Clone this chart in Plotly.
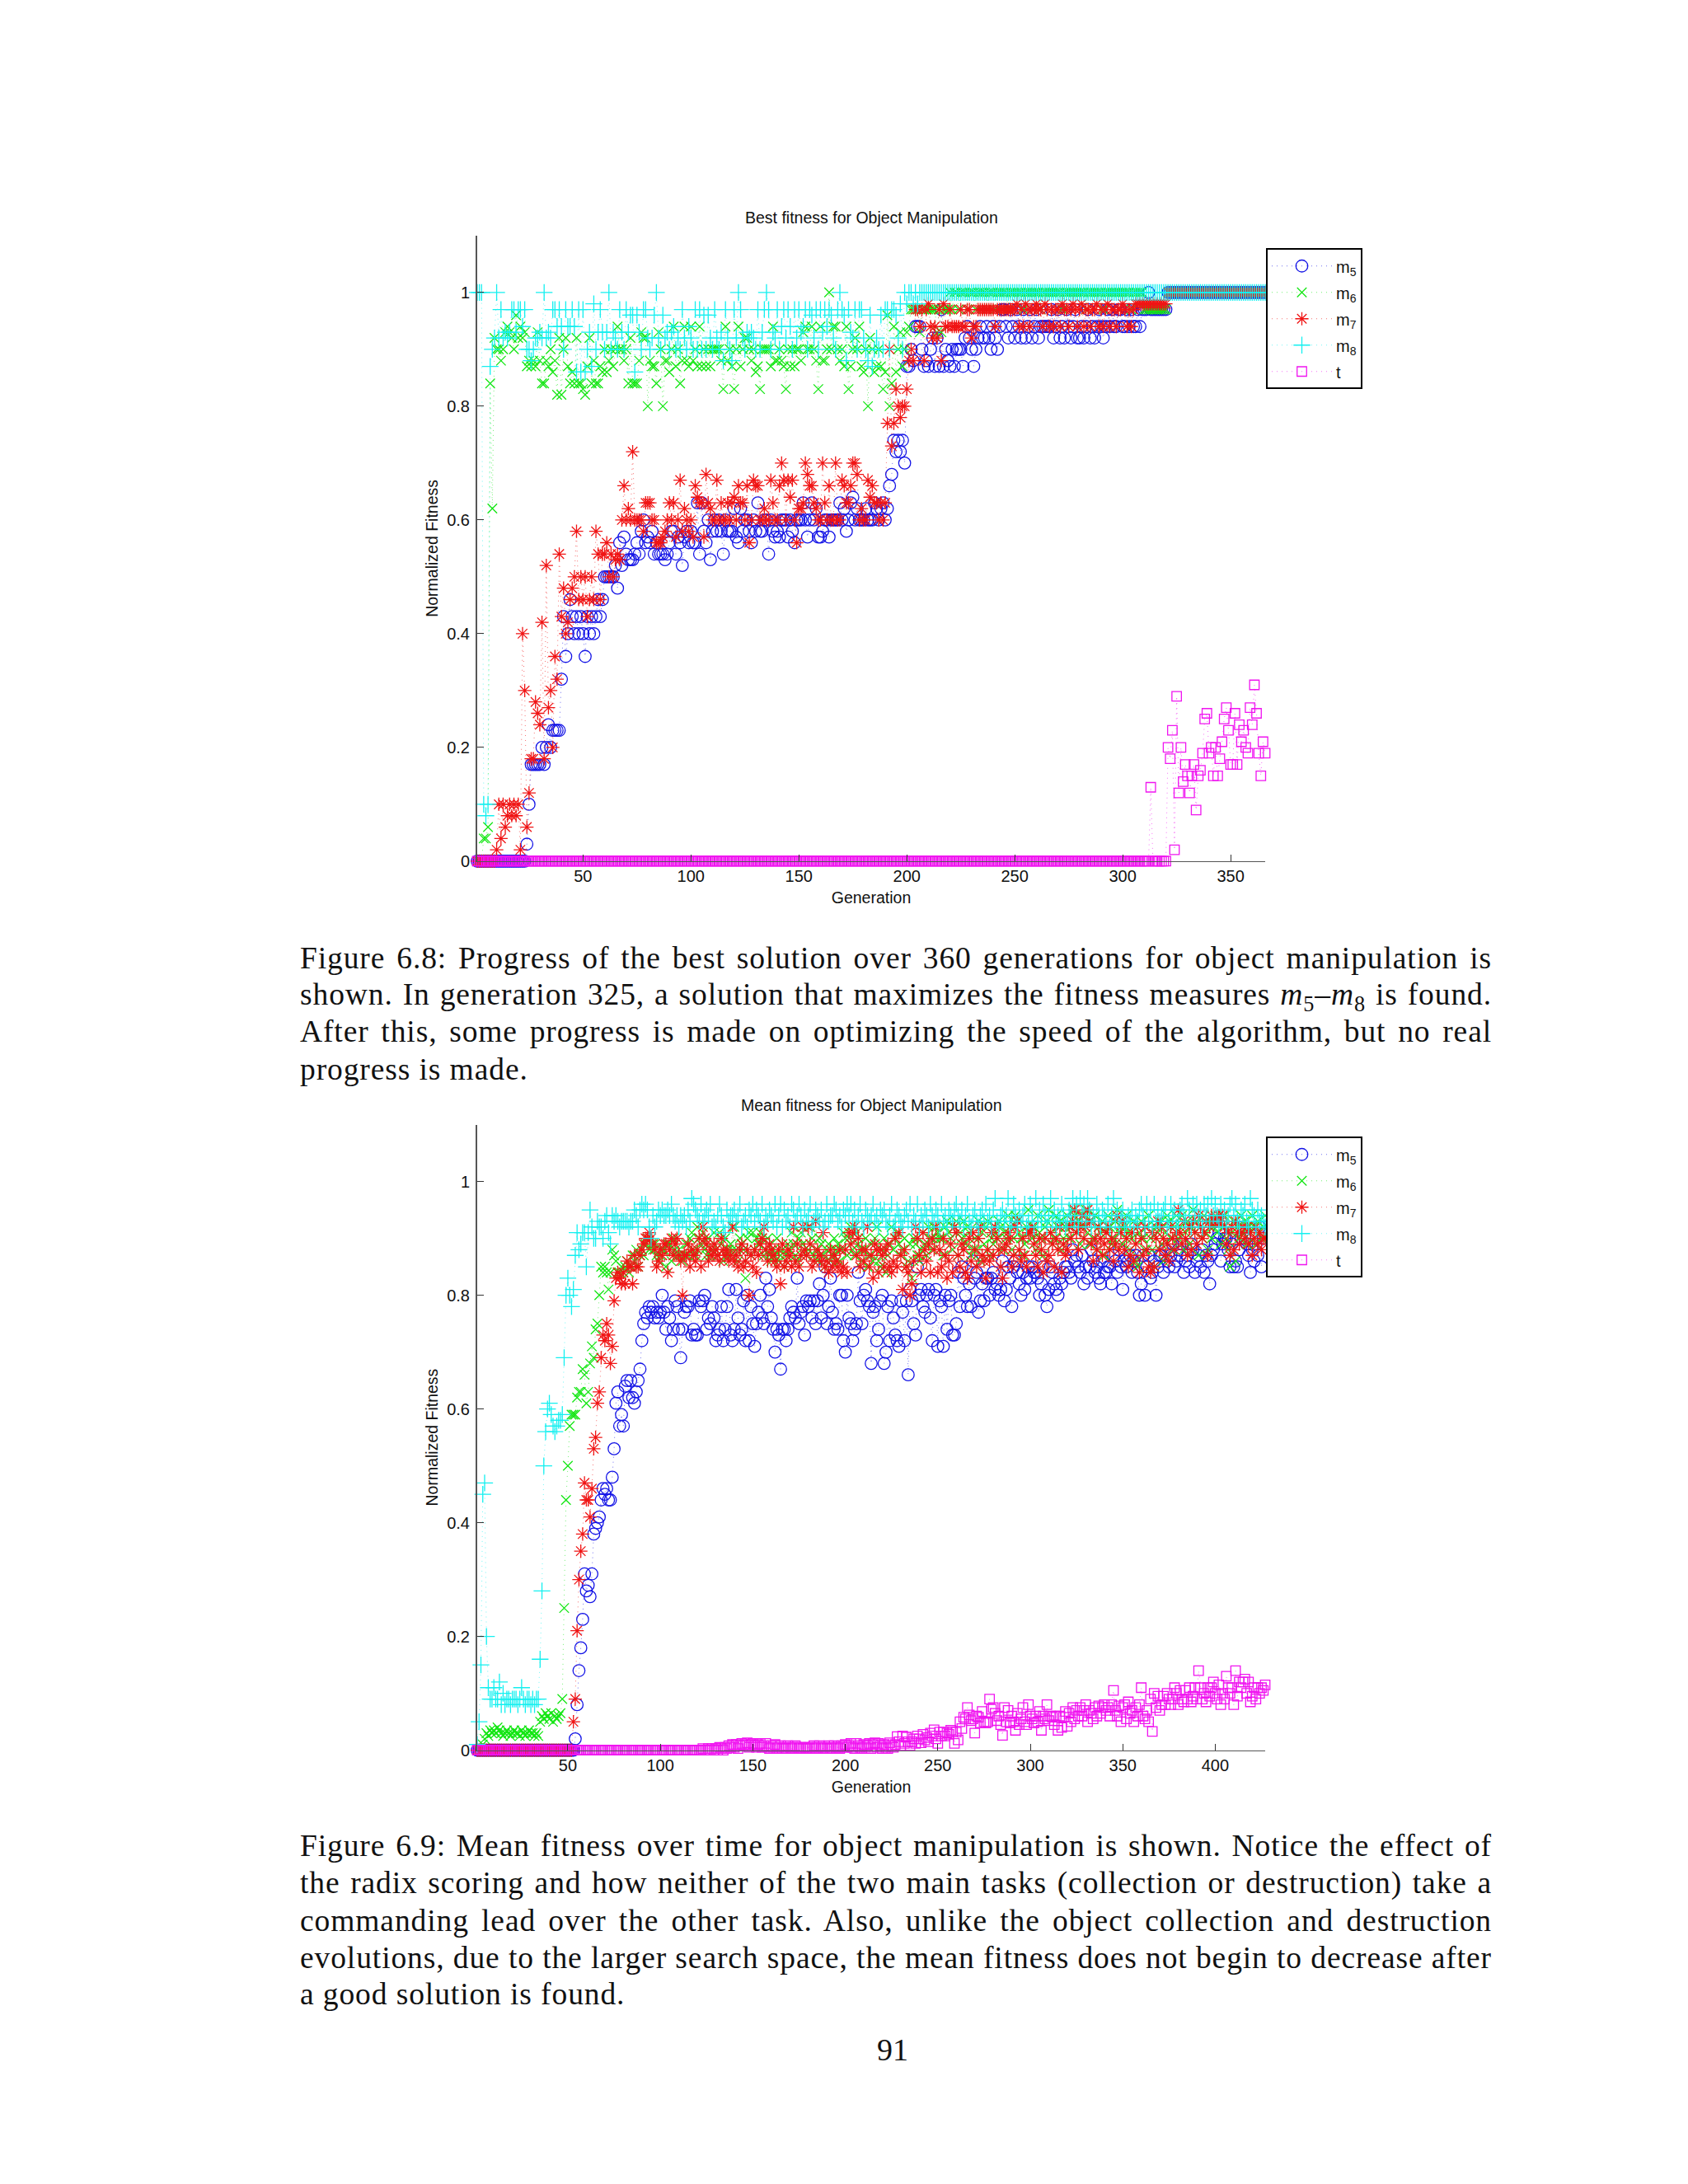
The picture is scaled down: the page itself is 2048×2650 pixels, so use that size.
import plotly.graph_objects as go

# ---------- Figure 6.8 (best fitness), values in percent, generation 1 onward ----------
best_m5 = [0]*23 + [3,10,17,17,17,17,17,20,17,20,24,20,23,23,23,23,32,43,36,40,46,43,40,43,40,43,40,36,43,40,43,40,43,46,43,46,
 50,50,50,50,50,52,48,56,52,57,54,53,53,53,54,56,54,58,60,56,57,56,58,54,56,54,54,54,53,54,56,58,58,54,57,56,52,57,58,56,
 58,56,56,63,54,63,58,56,60,53,58,60,58,60,58,54,60,58,58,58,62,57,56,62,58,60,60,58,56,60,58,63,58,58,60,60,54,60,58,57,
 58,57,60,60,60,57,60,58,56,60,60,60,63,60,57,60,63,60,62,57,57,58,60,60,57,60,60,60,60,63,60,62,58,60,63,64,60,62,60,60,
 60,62,60,60,60,63,62,60,62,63,60,62,66,68,74,72,74,72,74,70,
 87,87,90,88,94,94,94,90,87,88,
 87,90,92,87,92,87,97,87,90,88,
 87,90,87,90,90,90,87,92,94,92,
 90,87,90,92,94,92,92,94,92,90,
 94,92,90,94,97,97,94,92,97,94,
 92,97,94,92,97,92,94,97,92,94,
 97,92,94,94,94,94,94,97,92,94,
 97,92,94,92,97,94,92,94,97,92,
 92,94,92,94,97,92,94,92,94,97,
 94,92,94,97,94,97,94,94,97,97,
 94,94,97,94,97,94,94,97,94,97,
 97,97,100,97,97,97,97,97,97,97,97] + [100]*46
best_m6 = [0,0,0,4,4,6,84,62,92,90,90,88,90,93,94,93,92,90,96,92,94,92,93,87,88,87,88,87,93,88,84,84,88,87,90,86,88,82,92,82,
 90,92,87,84,86,84,92,84,84,83,82,87,92,84,88,84,84,87,86,90,86,88,90,87,90,94,90,90,88,90,84,92,84,84,84,88,93,92,92,80,
 88,87,87,84,93,90,80,88,88,86,90,94,87,90,84,88,94,88,87,
 94,88,90,87,94,87,90,87,90,87,
 90,90,90,90,88,83,94,88,90,87,
 83,90,94,87,90,92,92,90,88,90,
 86,87,83,90,90,90,90,87,94,88,
 88,90,88,87,83,90,87,90,87,90,
 90,88,93,94,90,90,94,90,88,83,
 94,88,88,90,100,90,94,94,90,88,
 90,87,94,83,87,90,92,90,94,87,
 86,90,80,92,90,86,87,90,87,83,
 86,96,80,84,94,86,90,93,87,90,
 93,94,97,97,97,97,93,97,97,97,97,97,97,97,93,97,93,97,97,97,
 100,97,100,100,97,100,100,100,97,100,100,100,97,100,100,100,100,97,100,100,
 100,97,100,100,100,100,100,97,100,100,100,100,100,100,97,100,100,100,100,100,
 100,100,97,100,100,100,100,100,100,100,100,100,97,100,100,100,100,100,100,100,
 100,100,100,97,100,100,100,100,100,100,100,97,100,100,100,100,100,100,100,100,
 100,100,100,100,97,100,100,100,100,100,97,97,97,97,97,97,97,97,97,97,97] + [100]*46
best_m7 = [0]*9 + [2,10,4,10,6,8,10,8,10,8,10,2,40,30,6,12,18,18,28,26,24,42,18,52,27,30,20,36,32,54,43,48,40,42,46,48,50,58,
 46,50,46,50,43,46,50,46,58,54,46,54,54,56,50,54,50,53,54,53,60,66,60,62,60,72,60,60,60,60,58,63,
 63,63,60,60,56,56,56,57,58,60,
 63,60,63,57,60,67,58,62,60,58,
 60,57,66,64,63,63,57,68,63,62,
 60,60,67,60,63,60,60,63,60,63,
 64,60,66,63,63,60,66,56,60,67,
 66,66,60,60,62,60,60,67,63,60,
 60,66,70,67,60,67,64,67,60,56,
 62,62,63,70,68,66,66,63,62,60,
 60,70,63,60,66,60,60,70,60,60,
 67,66,63,63,66,70,70,68,60,62,
 60,60,67,64,66,63,63,60,63,60,
 63,77,90,73,77,83,80,78,80,80,
 83,88,90,88,97,97,94,97,88,97,
 98,94,92,94,92,97,88,98,94,94,
 97,94,94,94,94,97,94,94,97,97,
 92,94,94,97,97,97,97,97,97,97,
 97,94,97,97,97,97,97,97,97,97,
 97,98,94,97,94,98,97,94,97,97,
 98,97,97,94,98,97,94,97,94,97,
 97,94,98,97,97,94,97,98,97,94,
 97,98,94,97,97,94,97,97,98,94,
 97,94,97,98,94,97,97,94,97,97,
 98,97,94,97,94,97,98,98,98,98,
 98,98,98,98,98,98,98,98,98,98,98] + [100]*46
best_m8 = [100,100,100,10,8,10,87,90,92,100,92,97,92,93,92,93,97,97,93,97,97,94,97,90,90,88,90,92,92,93,92,100,92,93,92,97,97,94,97,
 94,90,97,94,94,97,94,86,97,86,
 97,86,90,93,87,98,90,93,97,93,
 90,93,100,90,93,92,90,97,93,90,
 97,93,96,96,86,96,93,90,97,97,
 92,90,92,96,100,92,90,96,92,93,
 90,93,94,90,92,90,97,92,90,94,
 92,90,97,90,97,90,96,90,96,92,
 90,97,92,90,93,88,97,92,90,88,
 97,92,100,97,92,90,93,92,93,92,
 90,97,90,93,97,100,97,90,93,92,
 97,90,94,97,92,97,94,90,97,92,
 97,93,94,97,90,97,96,92,97,90,
 97,93,97,94,97,96,92,90,97,100,
 97,96,88,97,93,92,97,90,97,97,
 92,90,88,96,87,90,92,90,96,90,
 97,97,90,97,97,96,92,98,90,100,
 98,100,100,98,100,98,100] + [100]*160
best_t = [0]*312 + [13] + [0]*7 + [20,18,23,2,29,12,20,14,17,15,12,15,17,9,15,16,19,25,26,19,20,15,20,15,18,21,25,27,23,17,17,26,17,24,21,23,20,19,27,24,31,26,19,15,21,19]

# ---------- Figure 6.9 (mean fitness), values in percent, generation 1 onward ----------
mean_m5 = [0]*53 + [2,8,14,18,23,31,28,29,27,31,38,39,40,41,44,46,45,46,44,44,48,53,61,63,57,59,57,64,65,62,65,62,61,63,65,67,72,75,77,76,78,77,78,76,77,76,77,
 80,77,74,78,76,72,74,79,78,74,
 69,74,77,78,78,79,73,74,73,73,
 79,78,79,80,74,76,75,78,76,72,
 73,74,78,72,74,78,81,73,72,74,
 81,76,73,74,79,72,80,72,78,75,
 71,75,77,80,76,75,83,78,81,76,
 74,70,74,73,67,74,74,72,74,76,
 78,77,76,83,75,77,78,73,79,78,
 79,76,79,75,79,82,76,80,85,75,
 78,83,77,74,75,74,80,80,72,70,
 80,76,75,72,74,75,84,79,75,80,
 81,79,78,68,77,78,72,74,79,80,
 68,70,78,72,79,76,73,72,71,79,
 77,72,79,66,81,79,75,73,85,80,
 81,78,77,80,81,76,72,80,81,71,
 79,78,71,80,74,79,80,73,73,75,
 84,78,85,83,80,78,82,78,86,83,
 84,77,79,82,79,83,83,80,83,84,
 81,82,80,81,86,79,81,85,83,78,
 85,86,84,82,80,84,81,83,85,83,
 85,84,84,83,80,82,85,80,78,81,
 85,84,82,81,80,83,82,84,85,85,
 84,83,88,86,87,85,84,87,82,85,
 83,85,88,86,84,85,83,82,86,84,
 84,85,85,82,87,86,84,88,85,81,
 86,85,86,87,84,86,87,84,80,82,
 87,80,85,87,83,84,86,80,85,87,
 87,84,88,86,85,87,89,85,86,88,
 87,89,84,86,87,85,89,88,84,86,
 87,85,88,84,87,86,82,87,88,89,
 90,91,86,89,90,90,88,85,89,85,
 86,85,88,90,92,90,89,87,84,88,
 86,89,87,92,85,90,91,88]
mean_m6 = [0,0,0,1,2,3,2.5,3.5,3,3.5,3,4,3.5,3,2.5,3,3.5,3,2.5,3,3.5,3,3,2.5,3.5,3,2.5,3,3.5,3,3,2.5,3,2.5,5,6,5.5,6.5,6,5.5,6.5,5,6,5.5,6,6.5,9,25,44,50,57,59,59,59,62,63,63,67,66,61,63,68,71,69,74,75,80,85,84,85,84,81,84,88,87,86,84,84,85,
 84,85,86,84,85,87,86,88,85,87,
 88,87,89,90,88,89,88,89,87,86,
 87,88,88,85,89,89,86,90,88,87,
 88,87,86,87,89,87,90,91,88,87,
 92,90,89,91,88,87,90,87,88,91,
 88,87,91,89,86,90,87,88,89,88,
 92,88,86,90,89,88,83,90,91,87,
 91,88,90,89,91,90,87,88,90,87,
 86,88,87,90,86,87,88,85,87,89,
 88,91,89,87,86,90,91,89,88,87,
 88,92,90,87,88,86,90,89,87,85,
 88,89,86,87,90,88,89,86,88,91,
 90,87,90,92,88,87,91,89,88,86,
 88,90,85,87,89,86,90,92,86,85,
 88,90,84,87,89,92,88,90,91,89,
 87,88,90,85,86,89,83,90,89,87,
 86,88,91,89,87,92,90,88,92,90,
 91,90,90,87,92,93,91,90,88,92,
 93,87,91,90,93,89,92,91,87,88,
 90,88,93,86,91,89,92,93,87,90,
 89,91,90,93,92,88,91,90,94,92,
 88,90,94,93,91,90,87,89,92,95,
 91,90,92,88,94,91,90,87,92,93,
 95,91,89,90,94,92,93,88,90,92,
 94,90,92,95,94,91,93,89,92,94,
 95,91,89,93,90,94,88,92,91,93,
 87,91,94,92,89,90,93,95,91,92,
 89,92,94,91,88,90,93,86,85,91,
 93,90,88,92,94,90,88,85,92,91,
 93,89,86,91,94,93,90,88,92,94,
 90,92,94,88,91,93,89,92,95,91,
 93,87,92,90,94,91,88,93,90,92,
 94,91,93,89,92,94,90,88,85,91,
 93,86,92,90,94,91,93,89,92,91,
 94,92,89,93,91,90,92,94]
mean_m7 = [0]*52 + [5,9,21,30,35,38,47,44,44,41,46,53,55,61,63,69,73,72,75,73,68,71,79,83,84,83,82,84,82,86,85,85,82,87,85,85,87,88,89,90,90,91,90,89,88,85,86,
 88,87,89,89,84,88,90,87,89,90,
 87,86,80,87,87,89,85,88,87,86,
 88,90,85,92,90,89,86,88,87,89,
 88,87,86,90,88,87,88,86,87,92,
 86,87,85,88,89,85,86,88,80,87,
 85,88,84,87,89,90,92,88,86,89,
 88,87,86,85,88,82,89,85,86,88,
 87,85,92,86,89,85,87,92,88,87,
 92,89,85,86,93,88,87,86,91,85,
 86,84,88,85,87,86,85,88,84,85,
 88,84,91,89,91,92,87,90,85,88,
 86,88,92,85,87,83,89,88,84,88,
 87,85,88,89,85,84,86,90,85,91,
 87,81,88,85,84,80,82,86,92,90,
 87,84,91,88,86,89,84,90,88,92,
 84,88,85,90,87,83,86,89,84,92,
 91,87,85,89,88,84,83,90,86,91,
 88,85,90,92,87,86,83,88,86,91,
 87,92,90,88,85,83,88,89,91,90,
 85,87,92,93,88,86,90,87,85,91,
 91,92,89,87,85,90,88,84,90,86,
 87,91,89,85,90,88,92,84,89,87,
 88,92,90,93,95,91,88,92,94,90,
 92,95,93,89,86,90,88,92,90,87,
 89,91,92,88,90,86,89,94,88,91,
 93,88,90,85,87,91,86,89,92,84,
 90,87,92,88,85,84,91,85,90,93,
 88,92,90,87,89,86,92,90,88,91,
 95,91,89,93,90,87,92,88,93,91,
 89,94,92,90,91,93,87,92,94,93,
 93,93,94,93,94,92,89,91,87,92,
 88,93,91,89,91,92,90,92,89,91,
 87,90,92,89,91,88,90,90]
mean_m8 = [1,5,15,45,47,20,11,9,9,11,9,9,12,8,10,8,9,9,8,9,9,9,8,9,11,9,8,9,9,8,9,8,9,9,16,28,50,56,60,61,59,57,56,57,58,58,59,69,80,83,80,78,81,87,91,88,89,91,91,85,91,95,92,90,90,93,92,92,90,93,94,91,89,94,93,94,93,92,93,
 93,93,93,92,93,93,95,94,92,95,
 96,95,96,95,92,90,94,92,93,95,
 94,95,94,94,95,94,96,94,93,94,
 92,94,93,94,92,95,93,97,96,95,
 94,93,96,93,94,95,94,96,92,93,
 92,94,96,94,92,91,95,93,94,94,
 95,93,94,96,92,93,94,92,95,94,
 96,93,95,94,93,96,92,94,93,95,
 94,93,96,92,94,96,92,95,93,94,
 92,96,95,93,94,96,94,92,95,93,
 94,96,92,93,95,94,93,95,92,93,
 96,93,94,94,96,95,93,94,92,95,
 94,96,94,96,93,95,92,94,96,93,
 92,95,94,93,94,96,93,94,92,95,
 94,95,93,92,94,96,92,93,95,94,
 93,92,94,95,93,96,92,94,93,96,
 92,94,93,95,94,92,96,94,93,95,
 94,92,96,93,94,92,95,94,93,95,
 96,94,93,95,92,94,96,93,92,94,
 95,93,92,94,95,93,96,93,94,92,
 95,97,93,92,94,95,93,94,97,92,
 93,96,94,92,95,93,94,96,92,93,
 96,94,92,97,93,95,93,96,94,92,
 94,97,93,95,92,94,93,96,94,92,
 93,95,94,97,93,96,92,97,94,96,
 93,97,95,92,94,93,96,94,92,95,
 94,93,96,92,94,97,93,95,92,94,
 95,92,93,94,93,95,92,94,93,95,
 96,94,92,96,93,95,92,96,93,95,
 93,94,95,96,92,93,96,94,95,92,
 93,95,96,94,93,97,95,92,96,94,
 96,93,95,92,96,94,96,93,97,94,
 96,94,92,96,93,95,92,94,96,97,
 94,96,93,92,95,94,96,93,92,97,
 95,94,92,95,93,94,93,92]
mean_t = [0]*119 + [0,0,0,0.3,0,0,0.3,0,0.3,0,
 0.3,0,0.5,0.3,0,0.5,0.3,0.8,0.5,1,
 0.5,1,0.3,0.8,1.2,0.8,1,1.3,0.5,1,
 1.2,0.8,0.5,1,1.2,0.5,0.8,1.2,0.5,0.3,
 0.8,0.5,1,0.3,0.5,0.8,0.3,0.5,0.3,0.8,
 0.5,0.3,0.5,0.8,0.5,0.3,0.5,0.3,0.5,0.3,
 0.5,0.3,0.5,0.8,0.3,0.5,0.8,0.5,0.3,0.5,
 0.3,0.8,0.5,0.3,0.8,0.5,0.5,0.3,0.8,0.5,
 1,0.5,0.8,1.2,0.5,0.3,1.2,0.8,0.5,0.3,
 1,0.5,0.8,1.2,0.3,1,1.3,0.5,1.2,0.8,
 0.3,1,0.5,0.3,1.3,0.8,0.5,1,2.4,1.5,
 0.8,2.5,1.2,2.3,1.5,0.8,1.5,2,1.2,2.5,
 2,1.3,2.8,1.8,2.2,1.5,3,2.5,3.6,2,
 1.2,3.2,2.5,3.2,2.5,3,2.8,3.5,3.2,1.2,
 3.2,1.8,5,3.8,5.8,5.5,7.5,6.2,5.2,5.5,
 3,6,5.8,4.8,6.8,5,4.8,5,9,7.2,
 7.5,6.5,5.2,6,4.5,2.6,7.5,5,7,4.8,
 6,5,3.5,6.5,4.5,5.5,7.5,5,4.5,8,
 6,5.5,4.8,6,5,6.8,3.5,6,5.5,8,
 5.2,6,5.8,4.5,6,3.5,6,4,5.8,6.8,
 4.2,6.5,5,7.5,5.5,7,6,7.5,6,7,
 8,5,7,6.5,5.5,7.5,6,7.8,6.5,7.5,
 8,7,7.5,6,8,10.5,7,6,7.8,5,
 7.5,8,5.5,8.5,6.5,7,5,7.5,6,8,
 11,6,5.5,7,5,9,3.3,10,7.5,9.5,
 7,8,9.5,8,10,9,8,9,11,10,
 8,10.5,9,8.5,10.5,9,11,8.5,9.5,11,
 9,14,11,9,10,8.5,11,9.5,11,12,
 10,9,11.5,8,10,9,13,11,10,11,
 8,14,9.5,12,11,12,12.5,10,12,8.5,
 9.5,11,9,11,10,11,10.5,11.5]

names = ["m<sub>5</sub>", "m<sub>6</sub>", "m<sub>7</sub>", "m<sub>8</sub>", "t"]
colors = ["#1414e6", "#14e614", "#f01414", "#14f0f0", "#f014f0"]
dots = ["rgba(20,20,230,.6)", "rgba(20,230,20,.6)", "rgba(240,20,20,.6)", "rgba(20,240,240,.6)", "rgba(240,20,240,.6)"]
symbols = ["circle-open", "x-thin-open", "asterisk-open", "cross-thin-open", "square-open"]
sizes = [14.5, 11.5, 13.5, 14.5, 11.5]

FONT = "Liberation Sans"
W, H = 2048, 2650
AX_L, AX_R = 579 / W, 1535 / W


def py(px):
    return 1 - px / H


fig = go.Figure()
panels = [
    dict(series=[best_m5, best_m6, best_m7, best_m8, best_t], xa="x", ya="y", leg="legend"),
    dict(series=[mean_m5, mean_m6, mean_m7, mean_m8, mean_t], xa="x2", ya="y2", leg="legend2"),
]
for p in panels:
    for i, vals in enumerate(p["series"]):
        fig.add_trace(go.Scatter(
            x=list(range(1, len(vals) + 1)), y=[v / 100 for v in vals],
            mode="lines+markers", name=names[i], legend=p["leg"], legendgroup=p["leg"] + str(i),
            xaxis=p["xa"], yaxis=p["ya"], cliponaxis=False,
            line=dict(color=dots[i], width=1, dash="1px,5px"),
            marker=dict(symbol=symbols[i], size=sizes[i], color=colors[i], line=dict(color=colors[i], width=1.3)),
        ))

y_ticks = [0, 0.2, 0.4, 0.6, 0.8, 1]
y_labels = ["0", "0.2", "0.4", "0.6", "0.8", "1"]
x_ticks_top = [50, 100, 150, 200, 250, 300, 350]
x_ticks_bot = [50, 100, 150, 200, 250, 300, 350, 400]


def xaxis(dom, rng, ticks, anchor):
    return dict(domain=dom, range=rng, tickvals=ticks, ticks="inside", ticklen=8, tickwidth=1, tickcolor="#333",
                showline=True, linecolor="#555", linewidth=1, showgrid=False, zeroline=False, anchor=anchor,
                tickfont=dict(family=FONT, size=20, color="#111"),
                title=dict(text="Generation", font=dict(family=FONT, size=19.5, color="#111"), standoff=9))


def yaxis(dom, anchor):
    return dict(domain=dom, range=[0, 1.1], tickvals=y_ticks, ticktext=y_labels, ticks="inside", ticklen=8, tickwidth=1,
                tickcolor="#333", showline=True, linecolor="#555", linewidth=2, showgrid=False, zeroline=False, anchor=anchor,
                tickfont=dict(family=FONT, size=20, color="#111"), ticklabelstandoff=3,
                title=dict(text="Normalized Fitness", font=dict(family=FONT, size=19.5, color="#111"), standoff=5))


def legend(top_px):
    return dict(x=1536 / W, y=py(top_px), xanchor="left", yanchor="top", bgcolor="white", bordercolor="black", borderwidth=2,
                font=dict(family=FONT, size=20, color="#111"), itemwidth=73, traceorder="grouped", tracegroupgap=3,
                entrywidth=30, entrywidthmode="pixels")


captions = [
    ("Figure 6.8: Progress of the best solution over 360 generations for object manipulation is", 1167),
    ("shown. In generation 325, a solution that maximizes the fitness measures <i>m</i><sub>5</sub>–<i>m</i><sub>8</sub> is found.", 1214.5),
    ("After this, some progress is made on optimizing the speed of the algorithm, but no real", 1257),
    ("progress is made.", 1303),
    ("Figure 6.9: Mean fitness over time for object manipulation is shown. Notice the effect of", 2249),
    ("the radix scoring and how neither of the two main tasks (collection or destruction) take a", 2295),
    ("commanding lead over the other task. Also, unlike the object collection and destruction", 2340),
    ("evolutions, due to the larger search space, the mean fitness does not begin to decrease after", 2385),
    ("a good solution is found.", 2430),
]
anns = [dict(text=t, x=362 / W, y=py(y), xref="paper", yref="paper", xanchor="left", yanchor="middle", align="left",
             showarrow=False, font=dict(family="Liberation Serif", size=37.5, color="#111")) for t, y in captions]
anns.append(dict(text="91", x=1083 / W, y=py(2497), xref="paper", yref="paper", xanchor="center", yanchor="middle",
                 showarrow=False, font=dict(family="Liberation Serif", size=38, color="#111")))
for title, y in [("Best fitness for Object Manipulation", 265), ("Mean fitness for Object Manipulation", 1347)]:
    anns.append(dict(text=title, x=1057.5 / W, y=py(y), xref="paper", yref="paper", xanchor="center", yanchor="middle",
                     showarrow=False, font=dict(family=FONT, size=19.5, color="#111")))

fig.update_layout(
    width=W, height=H, autosize=False, margin=dict(l=0, r=0, t=0, b=0),
    paper_bgcolor="white", plot_bgcolor="white", showlegend=True,
    xaxis=xaxis([AX_L, AX_R], [1, 366], x_ticks_top, "y"),
    yaxis=yaxis([py(1049.3), py(287)], "x"),
    xaxis2=xaxis([AX_L, AX_R], [1, 427], x_ticks_bot, "y2"),
    yaxis2=yaxis([py(2132.5), py(1370.2)], "x2"),
    legend=legend(302.5), legend2=legend(1385),
    annotations=anns,
)

# justify the long caption lines to the text block width, as in the typeset page
post = """
document.body.style.margin = '0';
var gd = document.getElementById('{plot_id}');
gd.querySelectorAll('.annotation-text').forEach(function (t) {
  var s = t.textContent, n = (s.match(/ /g) || []).length;
  if (t.style.fontFamily.indexOf('Serif') < 0 || s.length < 10) return;
  t.style.letterSpacing = '0.9px';
  if (s.length > 60) t.style.wordSpacing = ((1446 - t.getComputedTextLength()) / n) + 'px';
});
"""
fig.write_html("out.html", post_script=post, config={"displayModeBar": False})
